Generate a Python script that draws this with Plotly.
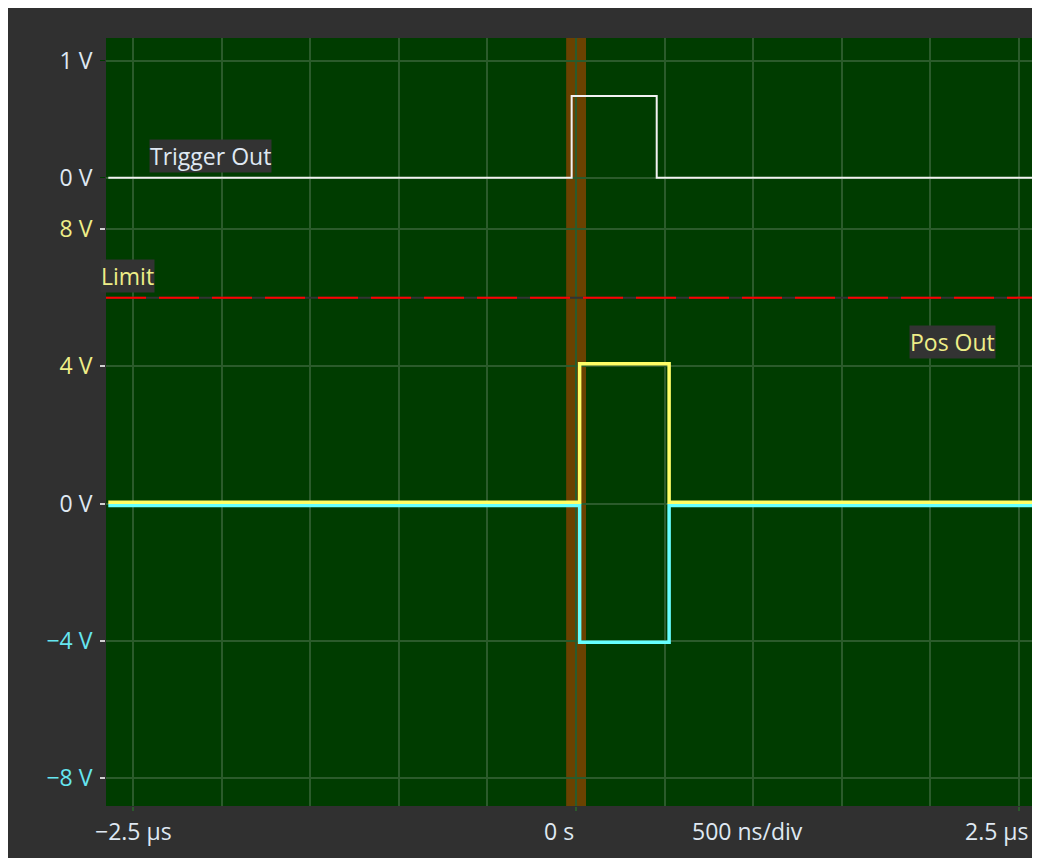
import plotly.graph_objects as go

# ---- data (time in microseconds, voltage in volts) ----
trigger_t = [-2.64, -0.025, 0.455, 2.7]
trigger_v = [0.0, 0.7, 0.0, 0.0]

pos_t = [-2.64, 0.02, 0.525, 2.7]
pos_v = [0.04, 4.07, 0.04, 0.04]

neg_t = [-2.64, 0.02, 0.525, 2.7]
neg_v = [-0.06, -4.04, -0.06, -0.06]

limit_v = 6.0
marker_band = [-0.056, 0.056]

grid_t = [-2.5, -2.0, -1.5, -1.0, -0.5, 0.0, 0.5, 1.0, 1.5, 2.0, 2.5]
labeled_t = [-2.5, 0.0, 2.5]

ch_ticks = [-8, -4, 0, 4, 8]
ch_ticktext = ["−8 V", "−4 V", "0 V", "4 V", "8 V"]
trig_ticks = [0, 1]
trig_ticktext = ["0 V", "1 V"]

# ---- styling ----
BG = "#303030"
PLOT_BG = "#003c00"
GRID = "#2b5b2b"
YELLOW = "#ffff66"
CYAN = "#66ffff"
WHITE_TXT = "#dfe8f2"
YEL_TXT = "#eeee88"
CYAN_TXT = "#66e6f0"
FONT = "Open Sans"
FS = 23

ch_colors = [CYAN_TXT, CYAN_TXT, WHITE_TXT, YEL_TXT, YEL_TXT]
ch_ticktext_col = [f'<span style="color:{c}">{t}</span>' for t, c in zip(ch_ticktext, ch_colors)]

fig = go.Figure()

fig.add_trace(go.Scatter(x=neg_t, y=neg_v, mode="lines", line_shape="hv",
                         line=dict(color=CYAN, width=3.5), name="Neg Out", yaxis="y"))
fig.add_trace(go.Scatter(x=pos_t, y=pos_v, mode="lines", line_shape="hv",
                         line=dict(color=YELLOW, width=3.5), name="Pos Out", yaxis="y"))
fig.add_trace(go.Scatter(x=trigger_t, y=trigger_v, mode="lines", line_shape="hv",
                         line=dict(color="#f2f2f2", width=2), name="Trigger Out", yaxis="y2"))

# marker band around t=0 (below gridlines)
fig.add_shape(type="rect", xref="x", yref="paper", x0=marker_band[0], x1=marker_band[1],
              y0=0, y1=1, fillcolor="#6a4200", line_width=0, layer="below")

# limit line: grey base + red dashes
fig.add_shape(type="line", xref="paper", yref="y", x0=0, x1=1, y0=limit_v, y1=limit_v,
              line=dict(color="#333333", width=2), layer="above")
fig.add_shape(type="line", xref="paper", yref="y", x0=0, x1=1, y0=limit_v, y1=limit_v,
              line=dict(color="#ff0000", width=2, dash="40px,13px"), layer="above")

# labels
fig.add_annotation(x=-2.063, y=0, xref="x", yref="y2", text="Trigger Out", showarrow=False,
                   xanchor="center", yanchor="bottom", yshift=5,
                   font=dict(family=FONT, size=FS, color=WHITE_TXT),
                   bgcolor="#333333", borderpad=0)
fig.add_annotation(x=0, y=limit_v, xref="paper", yref="y", text="Limit", showarrow=False,
                   xanchor="left", yanchor="bottom", xshift=-6, yshift=5,
                   font=dict(family=FONT, size=FS, color=YEL_TXT),
                   bgcolor="#333333", borderpad=0)
fig.add_annotation(x=2.122, y=4, xref="x", yref="y", text="Pos Out", showarrow=False,
                   xanchor="center", yanchor="bottom", yshift=7,
                   font=dict(family=FONT, size=FS, color=YEL_TXT),
                   bgcolor="#333333", borderpad=0)

# x-axis labels
fig.add_annotation(x=-2.5, y=0, xref="x", yref="paper", text="−2.5 µs", showarrow=False,
                   xanchor="center", yanchor="middle", yshift=-25,
                   font=dict(family=FONT, size=FS, color=WHITE_TXT))
fig.add_annotation(x=0, y=0, xref="x", yref="paper", text="0 s", showarrow=False,
                   xanchor="right", yanchor="middle", yshift=-25,
                   font=dict(family=FONT, size=FS, color=WHITE_TXT))
fig.add_annotation(x=2.5, y=0, xref="x", yref="paper", text="2.5 µs", showarrow=False,
                   xanchor="right", yanchor="middle", yshift=-25, xshift=12,
                   font=dict(family=FONT, size=FS, color=WHITE_TXT))
fig.add_annotation(x=0.965, y=0, xref="x", yref="paper", text="500 ns/div", showarrow=False,
                   xanchor="center", yanchor="middle", yshift=-25,
                   font=dict(family=FONT, size=FS, color=WHITE_TXT))

fig.update_layout(
    width=1024, height=850,
    margin=dict(l=98, r=0, t=30, b=52),
    paper_bgcolor=BG, plot_bgcolor=PLOT_BG,
    showlegend=False,
    font=dict(family=FONT, size=FS, color=WHITE_TXT),
    xaxis=dict(range=[-2.653, 2.573], tickvals=grid_t, showticklabels=False, ticks="",
               showgrid=True, gridcolor=GRID, gridwidth=1.5, zeroline=False, showline=False,
               minor=dict(tickvals=labeled_t, ticks="outside", ticklen=4, tickcolor=GRID,
                          tickwidth=1.5, showgrid=False)),
    yaxis=dict(range=[-8.816, 13.567], tickvals=ch_ticks, ticktext=ch_ticktext_col,
               ticks="outside", ticklen=5, tickcolor="#d0d0d0", tickwidth=1.5,
               ticklabelstandoff=3,
               showgrid=True, gridcolor=GRID, gridwidth=1.5, zeroline=False, showline=False,
               tickfont=dict(family=FONT, size=FS)),
    yaxis2=dict(range=[-5.384, 1.197], tickvals=trig_ticks, ticktext=trig_ticktext,
                overlaying="y", side="left", anchor="x",
                ticks="outside", ticklen=5, tickcolor=PLOT_BG, ticklabelstandoff=3,
                showgrid=True, gridcolor=GRID, gridwidth=1.5, zeroline=False, showline=False,
                tickfont=dict(family=FONT, size=FS, color=WHITE_TXT)),
)

fig.write_html("out.html")
